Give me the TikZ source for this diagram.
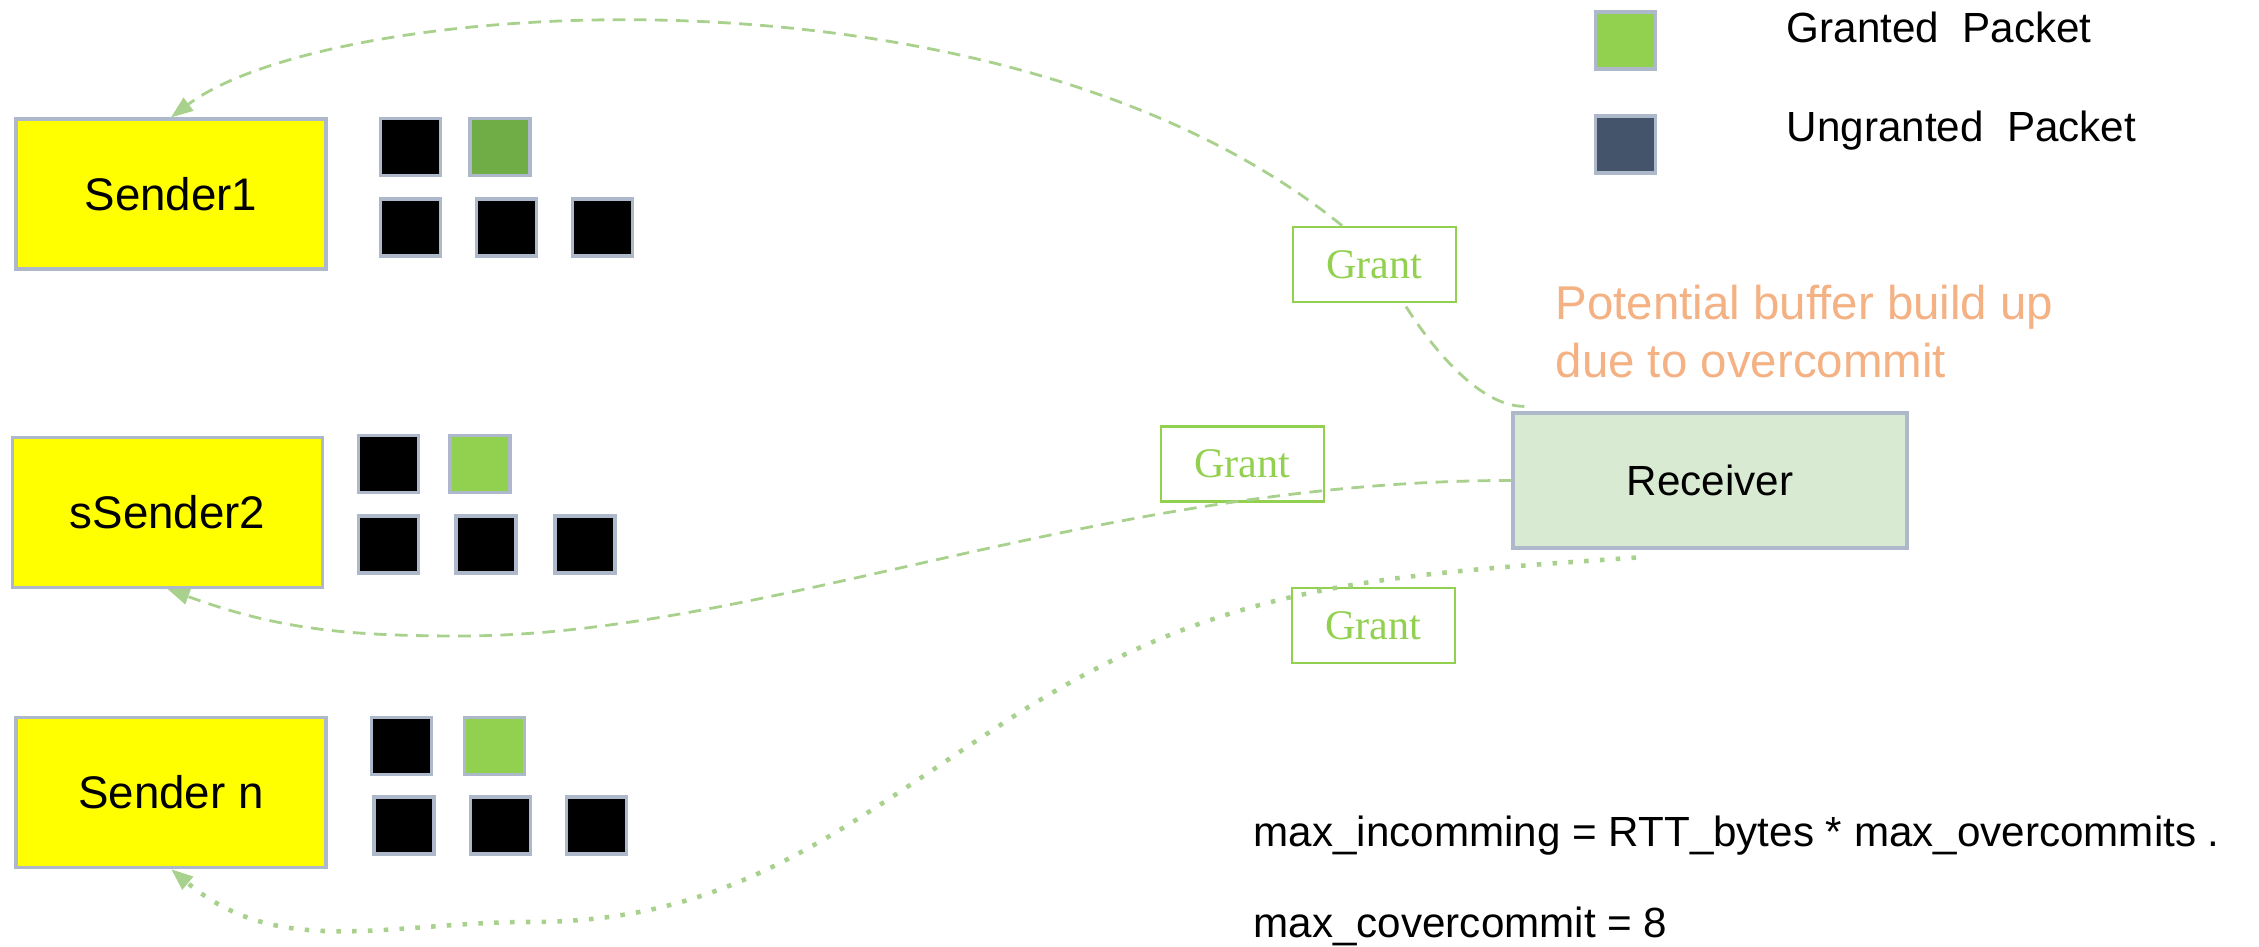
\documentclass[tikz,border=0pt]{standalone}
\usepackage{fontspec}
\setmainfont{Liberation Sans}
\newfontfamily\grantfont{Liberation Serif}
\usetikzlibrary{arrows.meta}

\definecolor{sendyellow}{HTML}{FFFF00}
\definecolor{boxgray}{HTML}{ADB9CA}
\definecolor{grantgreen}{HTML}{92D050}
\definecolor{granteddark}{HTML}{70AD47}
\definecolor{ungranted}{HTML}{44546A}
\definecolor{rcvfill}{HTML}{D9EAD3}
\definecolor{linkgreen}{HTML}{A9D18E}
\definecolor{noteorange}{HTML}{F4B183}

\begin{document}
\begin{tikzpicture}[
  sender/.style={draw=boxgray, line width=0.9pt, fill=sendyellow, minimum width=3.1cm, minimum height=1.5cm, font=\fontsize{13}{15}\selectfont},
  pkt/.style={draw=boxgray, line width=0.9pt, minimum width=0.6cm, minimum height=0.57cm, inner sep=0pt},
  grantbox/.style={draw=grantgreen, line width=0.8pt, minimum width=1.63cm, minimum height=0.75cm, text=grantgreen, font=\grantfont\fontsize{12}{14}\selectfont},
  plaintext/.style={anchor=base west, inner sep=0pt, font=\fontsize{12}{14}\selectfont},
  grantdash/.style={draw=linkgreen, line width=0.8pt, dash pattern=on 3.6pt off 2.4pt},
  grantdot/.style={draw=linkgreen, line width=1.3pt, dash pattern=on 1.3pt off 3.2pt},
  grantarrow/.style={-{Triangle[length=0.22cm,width=0.16cm]}}
]
\useasboundingbox (0,0) rectangle (22.59,9.47);

% senders
\node[sender] (s1) at (1.71,7.53) {Sender1};
\node[sender] (s2) at (1.675,4.345) {sSender2};
\node[sender] (s3) at (1.71,1.545) {Sender n};

% packets waiting at each sender
\foreach \x/\y/\c [count=\i] in {4.105/8.00/black, 5.00/8.00/granteddark, 4.105/7.195/black, 5.065/7.195/black, 6.025/7.195/black}
  \node[pkt, fill=\c] (a\i) at (\x,\y) {};
\foreach \x/\y/\c [count=\i] in {3.885/4.83/black, 4.80/4.83/grantgreen, 3.885/4.025/black, 4.86/4.025/black, 5.85/4.025/black}
  \node[pkt, fill=\c] (b\i) at (\x,\y) {};
\foreach \x/\y/\c [count=\i] in {4.015/2.01/black, 4.945/2.01/grantgreen, 4.04/1.215/black, 5.005/1.215/black, 5.965/1.215/black}
  \node[pkt, fill=\c] (c\i) at (\x,\y) {};

% receiver and grants
\node[draw=boxgray, line width=0.9pt, fill=rcvfill, minimum width=3.94cm, minimum height=1.35cm, font=\fontsize{12}{14}\selectfont] (rcv) at (17.10,4.665) {Receiver};
\node[grantbox] (g1) at (13.745,6.825) {Grant};
\node[grantbox] (g2) at (12.425,4.83) {Grant};
\node[grantbox] (g3) at (13.735,3.215) {Grant};

\node[anchor=base west, align=left, inner sep=0pt, text=noteorange, font=\fontsize{13.5}{16.5}\selectfont] (note) at (15.55,5.69) {Potential buffer build up\\due to overcommit};

% legend
\node[pkt, fill=grantgreen] (lg1) at (16.255,9.065) {};
\node[pkt, fill=ungranted] (lg2) at (16.255,8.025) {};
\node[plaintext] (lt1) at (17.86,9.04) {Granted\ \ Packet};
\node[plaintext] (lt2) at (17.86,8.05) {Ungranted\ \ Packet};

% formula
\node[plaintext] (f1) at (12.53,1.00) {max\_incomming = RTT\_bytes * max\_overcommits .};
\node[plaintext] (f2) at (12.53,0.09) {max\_covercommit = 8};

% grant paths
\coordinate (r1) at ([shift={(0.13,0.05)}]rcv.north west);
\draw[grantdash] (r1) .. controls +(-0.46,0) and +(0.26,-0.42) .. ([xshift=0.295cm]g1.south);
\draw[grantdash, grantarrow] ([xshift=-0.325cm]g1.north) .. controls +(-3.42,2.77) and +(1.59,1.20) .. (s1.north);

\coordinate (v2) at (4.60,3.11);
\draw[grantdash, grantarrow] (rcv.west) .. controls +(-4.13,0) and +(3.0,0) .. (v2) to[out=180,in=-20] (s2.south);

\coordinate (r3) at ([shift={(-0.74,-0.08)}]rcv.south);
\coordinate (d1) at (10.08,2.27);
\coordinate (d2) at (5.30,0.25);
\draw[grantdot, grantarrow] (r3) to[out=184,in=33] (d1) to[out=213,in=0] (d2) to[out=180,in=-40] (s3.south);
\end{tikzpicture}
\end{document}
